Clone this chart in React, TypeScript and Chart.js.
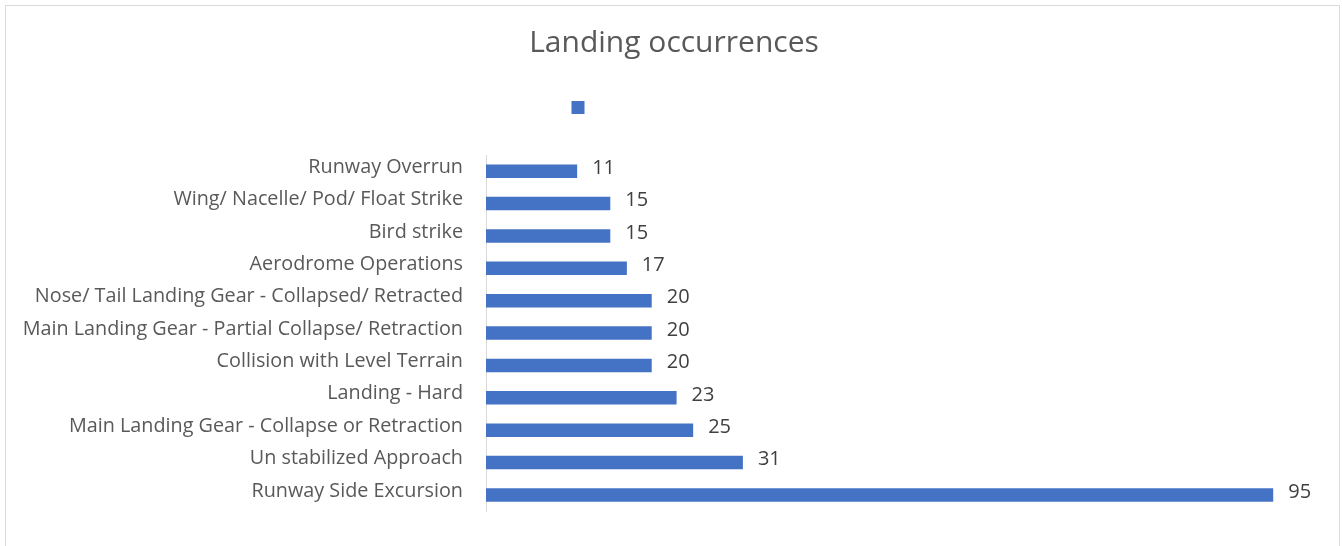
import React, { useEffect, useRef } from "react";
import { Chart, registerables } from "chart.js";

Chart.register(...registerables);

const categories = [
  "Runway Overrun",
  "Wing/ Nacelle/ Pod/ Float Strike",
  "Bird strike",
  "Aerodrome Operations",
  "Nose/ Tail Landing Gear - Collapsed/ Retracted",
  "Main Landing Gear - Partial Collapse/ Retraction",
  "Collision with Level Terrain",
  "Landing - Hard",
  "Main Landing Gear - Collapse or Retraction",
  "Un stabilized Approach",
  "Runway Side Excursion",
];
const values = [11, 15, 15, 17, 20, 20, 20, 23, 25, 31, 95];
const titleText = "Landing occurrences";
const seriesName =
  "\u2003\u2003\u2003\u2003\u2003\u2003\u2003\u2003\u2003\u2003\u2003\u2002";
const axisMin = 0;
const axisMax = 103.3;

const FONT = "'Open Sans', 'Noto Sans', sans-serif";

export default function App() {
  const ref = useRef<HTMLCanvasElement | null>(null);

  useEffect(() => {
    document.body.style.margin = "0";
    const canvas = ref.current;
    if (!canvas) return;

    const borderPlugin = {
      id: "frame",
      beforeDraw(chart: any) {
        const ctx = chart.ctx;
        ctx.save();
        ctx.fillStyle = "#ffffff";
        ctx.fillRect(0, 0, chart.width, chart.height);
        ctx.strokeStyle = "#d9d9d9";
        ctx.lineWidth = 1;
        ctx.beginPath();
        ctx.moveTo(5.5, chart.height + 2);
        ctx.lineTo(5.5, 5.5);
        ctx.lineTo(chart.width - 2.5, 5.5);
        ctx.lineTo(chart.width - 2.5, chart.height + 2);
        ctx.stroke();
        ctx.restore();
      },
    };

    const valueLabels = {
      id: "valueLabels",
      afterDatasetsDraw(chart: any) {
        const ctx = chart.ctx;
        const meta = chart.getDatasetMeta(0);
        ctx.save();
        ctx.font = `20px ${FONT}`;
        ctx.fillStyle = "#404040";
        ctx.textAlign = "left";
        ctx.textBaseline = "middle";
        meta.data.forEach((bar: any, i: number) => {
          const v = chart.data.datasets[0].data[i];
          ctx.fillText(String(v), bar.x + 15, bar.y - 3);
        });
        ctx.restore();
      },
    };

    const chart = new Chart(canvas, {
      type: "bar",
      data: {
        labels: categories,
        datasets: [
          {
            label: seriesName,
            data: values,
            backgroundColor: "#4472C4",
            borderWidth: 0,
            barPercentage: 0.42,
            categoryPercentage: 1,
          },
        ],
      },
      options: {
        indexAxis: "y",
        responsive: false,
        animation: false,
        layout: { padding: { left: 6, right: 0, top: 0, bottom: 26 } },
        plugins: {
          title: {
            display: true,
            text: titleText,
            color: "#595959",
            font: { family: FONT, size: 30, weight: "normal" as any },
            padding: { top: 25, bottom: 28.5 },
          },
          legend: {
            display: true,
            position: "top",
            labels: {
              boxWidth: 13,
              boxHeight: 13,
              padding: 10,
              color: "#595959",
              font: { family: FONT, size: 16 },
            },
          },
          tooltip: { enabled: false },
        },
        scales: {
          x: {
            display: true,
            position: "top",
            min: axisMin,
            max: axisMax,
            grid: { display: false, drawTicks: false },
            border: { display: false },
            ticks: { display: false },
            afterFit(scale: any) {
              scale.height = 29.5;
            },
          },
          y: {
            afterFit(scale: any) {
              scale.width = 480;
            },
            grid: { display: false, drawTicks: false },
            border: { display: true, color: "#d9d9d9", width: 1 },
            ticks: {
              color: "#595959",
              padding: 23,
              labelOffset: -4,
              autoSkip: false,
              font: { family: FONT, size: 19.8 },
            },
          },
        },
      },
      plugins: [borderPlugin, valueLabels],
    });

    return () => chart.destroy();
  }, []);

  return (
    <div style={{ width: 1342, height: 546 }}>
      <canvas ref={ref} width={1342} height={546} style={{ display: "block" }} />
    </div>
  );
}
